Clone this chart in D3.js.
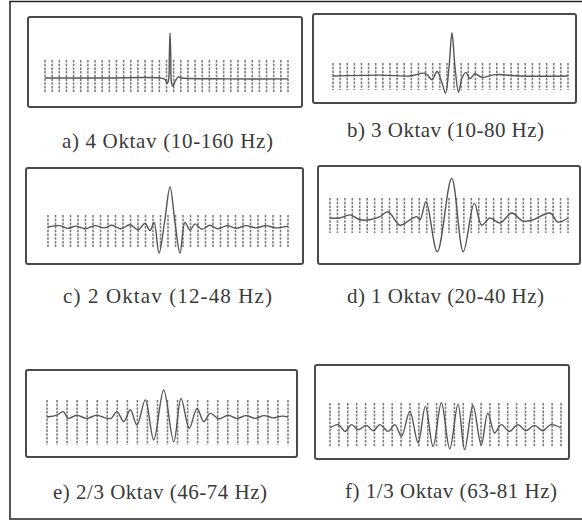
<!DOCTYPE html>
<meta charset="utf-8">
<body style="margin:0;background:#fff">
  <svg id="chart"></svg>
</body>

<style>
.frame { fill: none; stroke: #222; stroke-width: 1.5; }
.box { fill: #fff; stroke: #4a4a4a; stroke-width: 2; }
.tick { stroke: #7d7d7d; stroke-width: 1.6; stroke-dasharray: 2.5,1.2; }
.trace { fill: none; stroke: #555; stroke-width: 1.4; stroke-linejoin: round; }
.label { font-family: "Liberation Serif", "DejaVu Serif", serif; font-size: 21px; fill: #3a3a3a; }
</style>

<script src="https://d3js.org/d3.v7.min.js"></script>
<script>

// captions of the six panels
var labels = ["a) 4 Oktav (10-160 Hz)", "b) 3 Oktav (10-80 Hz)", "c) 2 Oktav (12-48 Hz)",
              "d) 1 Oktav (20-40 Hz)", "e) 2/3 Oktav (46-74 Hz)", "f) 1/3 Oktav (63-81 Hz)"];

// number of dashed sample marks in each panel
var tickCounts = [35, 34, 33, 33, 25, 27];

// wavelets: time (ms, trace runs -120..120) and normalised amplitude
var aTime = [-120, -60, -6.4, -1.5, 0.5, 2.0, 2.8, 3.5, 4.2, 4.9, 6.4, 8.4, 11.4, 15.3, 60, 120];
var aAmp  = [0, 0, 0, -0.03, -0.12, -0.05, 0.5, 1.0, 0.5, -0.1, -0.18, -0.08, 0.02, 0, -0.02, -0.02];

var bTime = [-120, -72, -41.4, -26, -18.9, -13.8, -8.7, -5.1, -1.5, 1.5, 4.6, 8.2, 11.7, 15.8, 19.9, 25, 32.2, 45.5, 71, 120];
var bAmp  = [0, 0.02, 0, 0.06, -0.08, 0.1, -0.15, -0.38, 0.2, 0.96, 0.2, -0.36, -0.05, 0.08, -0.06, 0.05, -0.03, 0.03, 0, 0];

var cTime = [-120, -108, -100, -92, -83, -73, -64, -56, -47, -38, -30, -23, -18, -14, -9, -3.5, 2, 7, 12, 17,
             22, 27, 34, 42, 50, 59, 68, 78, 88, 98, 108, 120];
var cAmp  = [0, 0.03, -0.03, 0.02, -0.04, 0.03, -0.02, 0.04, -0.04, 0.05, -0.06, 0.08, -0.08, 0.1, -0.58, 0.1, 0.89, 0.1, -0.58, 0.1,
             -0.07, 0.07, -0.05, 0.04, -0.04, 0.03, -0.03, 0.03, -0.02, 0.03, -0.02, 0.02];

var dTime = [-120, -109.9, -99.8, -89.7, -79.7, -69.6, -61.5, -49.4, -39.3, -32.6, -29.2, -23.2, -11.8, 2.7, 14.4,
             25.5, 33, 41.3, 51.4, 63.2, 74.6, 84.7, 101.8, 109.9, 120];
var dAmp  = [0, 0, 0.07, -0.04, -0.04, 0.03, 0.14, -0.16, -0.04, 0.03, -0.04, 0.36, -0.75, 0.88, -0.75,
             0.33, -0.16, 0, -0.11, 0.11, -0.07, -0.04, 0.11, -0.09, 0];

var eTime = [-120, -110.3, -103.8, -98.8, -90.4, -80.5, -70.5, -62.2, -56.3, -50.3, -43.6, -37, -30.4, -22.1, -13.7,
             -3.8, 6.2, 13.5, 21.7, 29.4, 36.1, 42.6, 51.3, 60.3, 69.2, 78.2, 87.2, 96.1, 105.1, 114, 120];
var eAmp  = [0, 0.04, 0.12, -0.03, 0.04, -0.03, 0.04, -0.02, -0.03, 0.12, -0.1, 0.16, -0.18, 0.38, -0.51,
             0.6, -0.55, 0.41, -0.25, 0.19, -0.1, 0.08, -0.04, 0.04, -0.03, 0.03, -0.03, 0.03, -0.02, 0.02, 0];

var fTime = [-120, -111.4, -104.5, -97.6, -90.7, -82.1, -75.1, -68.2, -59.6, -52.6, -45.8, -37.1, -28.5, -20.9, -12.9,
             -4.3, 4.4, 13, 19.9, 28.5, 37.1, 44, 51, 57.8, 66.5, 75.1, 83.7, 92.4, 101, 109.6, 120];
var fAmp  = [0, 0.074, -0.074, 0.074, -0.037, 0.059, -0.059, 0.074, -0.074, 0.074, -0.185, 0.37, -0.33, 0.48, -0.41,
             0.56, -0.46, 0.53, -0.48, 0.5, -0.37, 0.33, -0.11, 0.074, -0.074, 0.074, -0.059, 0.059, -0.059, 0.074, 0];

var times = [aTime, bTime, cTime, dTime, eTime, fTime];
var amps  = [aAmp, bAmp, cAmp, dAmp, eAmp, fAmp];

// layout of each panel (pixels)
var panels = [
  {box: [28, 17, 302, 107],  trace: [45, 288],  base: 78,  up: 18, down: 14, label: [62, 273, 148]},
  {box: [313, 14, 576, 103], trace: [333, 568], base: 76,  up: 13, down: 14, label: [347, 544, 137]},
  {box: [26, 168, 303, 264], trace: [48, 288],  base: 227, up: 12, down: 20, label: [63, 272, 303]},
  {box: [318, 166, 580, 264], trace: [330, 568], base: 218, up: 20, down: 15, label: [347, 544, 303]},
  {box: [26, 370, 297, 457], trace: [47, 288],  base: 417, up: 17, down: 28, label: [53, 267, 499]},
  {box: [315, 365, 569, 459], trace: [330, 561], base: 428, up: 25, down: 19, label: [345, 557, 498]}
];

var svg = d3.select("#chart").attr("width", 582).attr("height", 523);

// outer frame (right side falls outside the picture)
svg.append("rect").attr("class", "frame")
    .attr("x", 10).attr("y", 1.5).attr("width", 600).attr("height", 517.5);

panels.forEach(function(p, i) {
  var g = svg.append("g");

  g.append("rect").attr("class", "box")
      .attr("x", p.box[0]).attr("y", p.box[1])
      .attr("width", p.box[2] - p.box[0]).attr("height", p.box[3] - p.box[1])
      .attr("rx", 2);

  var x = d3.scaleLinear().domain([-120, 120]).range(p.trace);
  var y = d3.scaleLinear().domain([-1, 1]).range([p.base + 45, p.base - 45]);

  // dashed sample marks
  var n = tickCounts[i];
  var tks = d3.range(n).map(function(k) { return -120 + k * 240 / (n - 1); });
  g.selectAll("line.tick")
    .data(tks)
    .enter()
    .append("line")
      .attr("class", "tick")
      .attr("x1", d => x(d)).attr("x2", d => x(d))
      .attr("y1", p.base - p.up).attr("y2", p.base + p.down);

  // wavelet trace
  var pts = times[i].map(function(t, k) { return [t, amps[i][k]]; });
  var line = d3.line()
      .x(d => x(d[0]))
      .y(d => y(d[1]))
      .curve(d3.curveCatmullRom.alpha(0.5));
  g.append("path").attr("class", "trace").attr("d", line(pts));

  // caption
  g.append("text").attr("class", "label")
      .attr("x", p.label[0]).attr("y", p.label[2])
      .attr("textLength", p.label[1] - p.label[0])
      .attr("lengthAdjust", "spacing")
      .text(labels[i]);
});

</script>
